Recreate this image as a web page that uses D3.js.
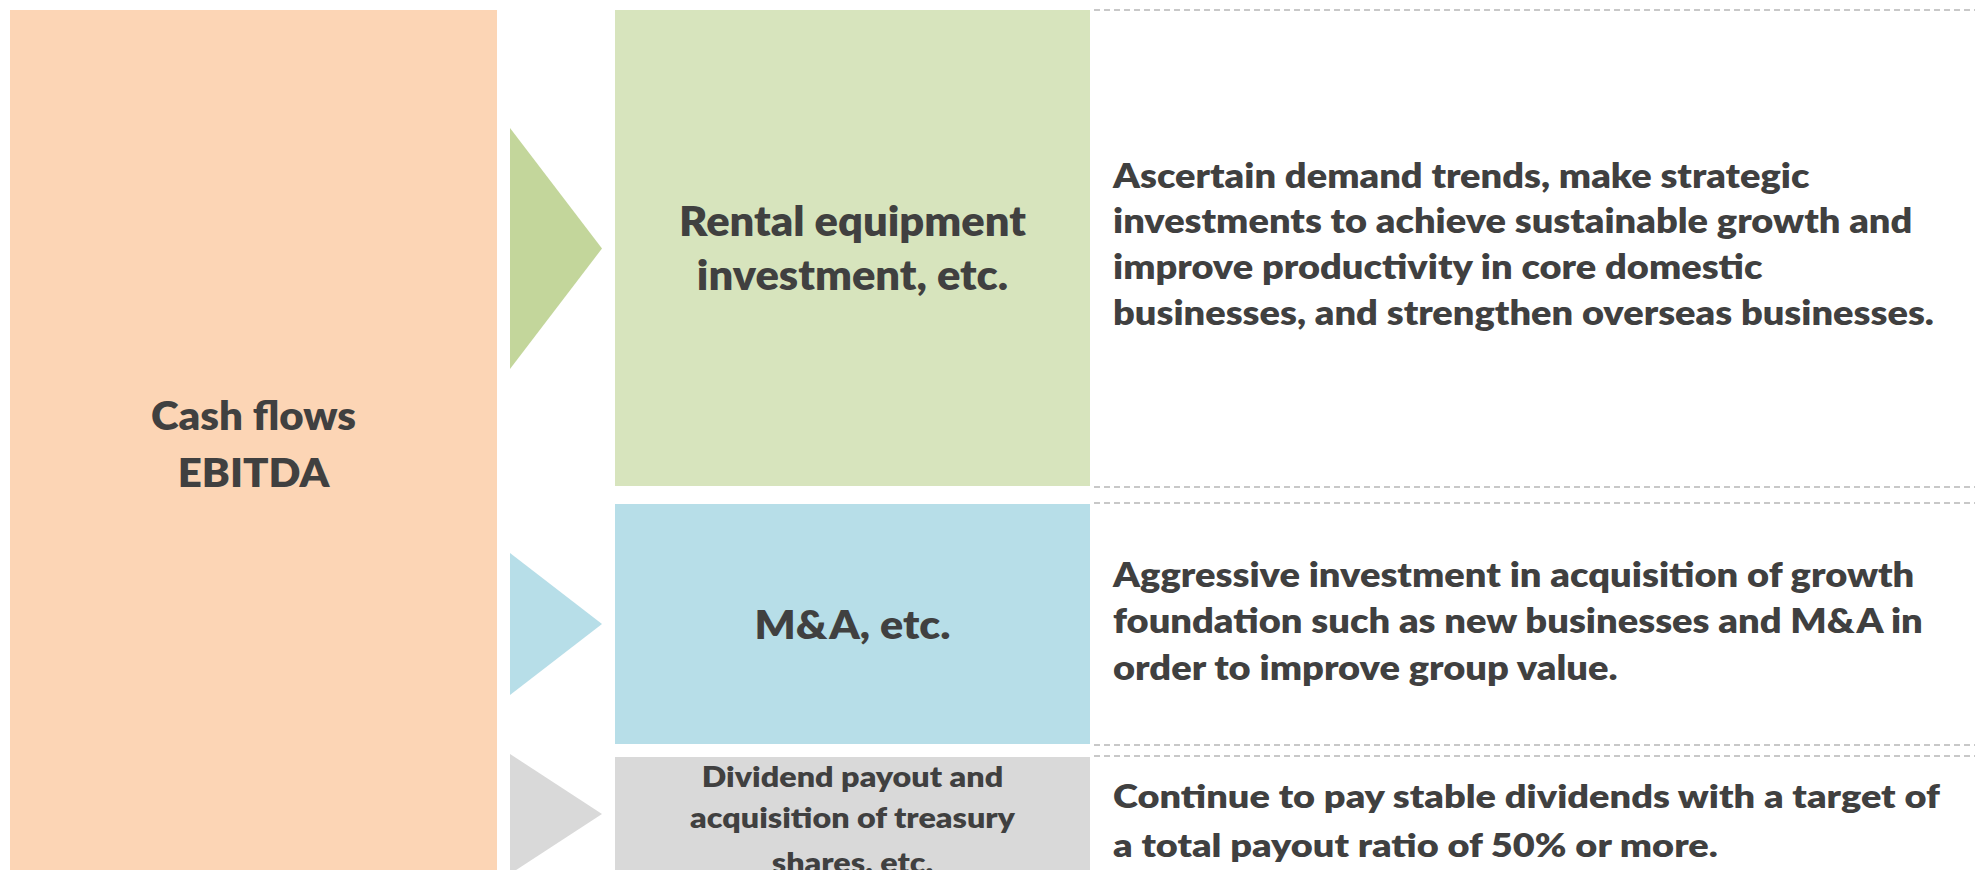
<!DOCTYPE html>
<html>
<head>
<meta charset="utf-8">
<script src="https://cdn.jsdelivr.net/npm/d3@7"></script>
<style>
  html, body { margin: 0; padding: 0; background: #fff; }
  svg { display: block; }
  text { font-family: Lato, "Open Sans", sans-serif; font-weight: 800; fill: #404040; }
</style>
</head>
<body>
<div id="chart"></div>
<script>
// content of the diagram
const sourceLines = ["Cash flows", "EBITDA"];
const usageLabels = [
  ["Rental equipment", "investment, etc."],
  ["M&A, etc."],
  ["Dividend payout and", "acquisition of treasury", "shares, etc."],
];
const policyLines = [
  [
    "Ascertain demand trends, make strategic",
    "investments to achieve sustainable growth and",
    "improve productivity in core domestic",
    "businesses, and strengthen overseas businesses.",
  ],
  [
    "Aggressive investment in acquisition of growth",
    "foundation such as new businesses and M&A in",
    "order to improve group value.",
  ],
  [
    "Continue to pay stable dividends with a target of",
    "a total payout ratio of 50% or more.",
  ],
];

// colours per row: box, arrow
const boxColors = ["#d7e4bd", "#b7dee8", "#d9d9d9"];
const arrowColors = ["#c3d69b", "#b7dee8", "#d9d9d9"];
const sourceColor = "#fcd5b5";

const width = 1975, height = 870;

// row geometry (pixels)
const rows = [
  { top: 10, bottom: 486, triTop: 128, triBottom: 369, labelBase: [236, 290], labelSize: 41, labelFit: [0, 347],
    textBase: [188, 233, 279, 325], textFit: [3, 821] },
  { top: 504, bottom: 744, triTop: 553, triBottom: 695, labelBase: [639], labelSize: 39, labelFit: [0, 196],
    textBase: [587, 633, 680], textFit: [1, 810] },
  { top: 757, bottom: 900, triTop: 754, triBottom: 874, labelBase: [787, 828, 873], labelSize: 28, labelFit: [1, 325],
    textBase: [808, 857], textFit: [0, 827] },
];
const dashedY = [10, 487, 503, 745, 756];

const srcX0 = 10, srcX1 = 497;
const triX0 = 510, triX1 = 602;
const boxX0 = 615, boxX1 = 1090;
const textX = 1113;
const descSize = 33;

const svg = d3
  .select("#chart")
  .append("svg")
  .attr("width", width)
  .attr("height", height);

// horizontal squeeze so a reference line gets the width seen in the picture
const fitScale = (lines, size, refIndex, target) => {
  const probe = svg.append("text").style("font-size", size + "px").text(lines[refIndex]);
  const w = probe.node().getComputedTextLength();
  probe.remove();
  return target / w;
};

// source box on the left
svg
  .append("rect")
  .attr("x", srcX0)
  .attr("y", 10)
  .attr("width", srcX1 - srcX0)
  .attr("height", height)
  .attr("fill", sourceColor);

const srcScale = fitScale(sourceLines, 40, 0, 205);
svg
  .selectAll(".src-label")
  .data(sourceLines)
  .enter()
  .append("text")
  .attr("class", "src-label")
  .attr("text-anchor", "middle")
  .style("font-size", "40px")
  .attr("transform", (d, i) => "translate(" + (srcX0 + srcX1) / 2 + "," + [430, 487][i] + ") scale(" + srcScale + ",1)")
  .text((d) => d);

// dashed separators on the right
svg
  .selectAll(".sep")
  .data(dashedY)
  .enter()
  .append("line")
  .attr("class", "sep")
  .attr("x1", boxX1 + 4)
  .attr("x2", width)
  .attr("y1", (d) => d)
  .attr("y2", (d) => d)
  .attr("stroke", "#c8c8c8")
  .attr("stroke-width", 2)
  .attr("stroke-dasharray", "6 4");

rows.forEach((row, i) => {
  // arrow
  const mid = (row.triTop + row.triBottom) / 2;
  svg
    .append("path")
    .attr("d", d3.line()([[triX0, row.triTop], [triX1, mid], [triX0, row.triBottom]]) + "Z")
    .attr("fill", arrowColors[i]);

  // usage box
  svg
    .append("rect")
    .attr("x", boxX0)
    .attr("y", row.top)
    .attr("width", boxX1 - boxX0)
    .attr("height", row.bottom - row.top)
    .attr("fill", boxColors[i]);

  const labels = usageLabels[i];
  const ls = fitScale(labels, row.labelSize, row.labelFit[0], row.labelFit[1]);
  labels.forEach((line, j) => {
    svg
      .append("text")
      .attr("text-anchor", "middle")
      .style("font-size", row.labelSize + "px")
      .attr("transform", "translate(" + (boxX0 + boxX1) / 2 + "," + row.labelBase[j] + ") scale(" + ls + ",1)")
      .text(line);
  });

  // policy description
  const desc = policyLines[i];
  const ds = fitScale(desc, descSize, row.textFit[0], row.textFit[1]);
  desc.forEach((line, j) => {
    svg
      .append("text")
      .style("font-size", descSize + "px")
      .attr("transform", "translate(" + textX + "," + row.textBase[j] + ") scale(" + ds + ",1)")
      .text(line);
  });
});
</script>
</body>
</html>
